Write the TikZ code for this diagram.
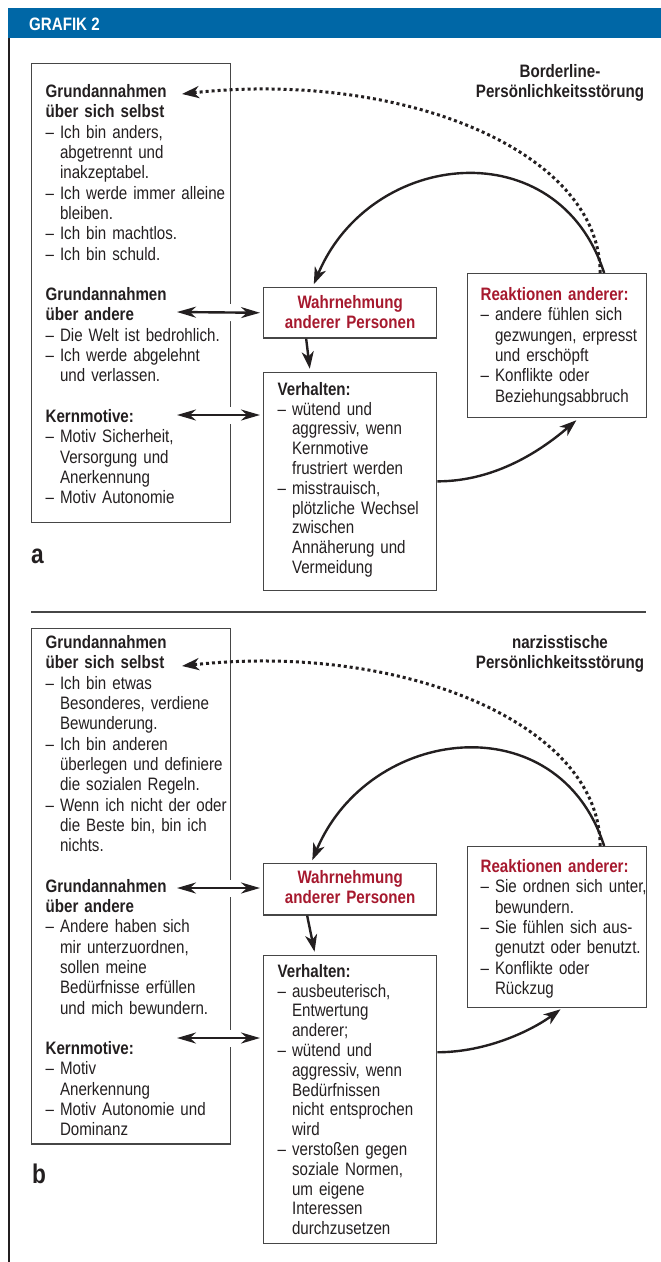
\documentclass[tikz,border=0pt]{standalone}
\usepackage{fontspec}
\setmainfont{Liberation Sans}[FakeStretch=0.84]
\usetikzlibrary{arrows.meta,positioning}

\definecolor{kopfblau}{RGB}{0,103,166}
\definecolor{rot}{RGB}{166,25,46}
\definecolor{schrift}{RGB}{35,31,32}
\definecolor{rahmengrau}{RGB}{70,70,70}

\newcommand{\pkt}[1]{\mbox{–\ #1}}
\newcommand{\wtr}[1]{\mbox{\phantom{–\ }#1}}

\begin{document}
\begin{tikzpicture}[
      x=1pt,y=-1pt,
      every node/.style={inner sep=0pt,text=schrift},
      rahmen/.style={
        draw=rahmengrau,
        line width=1.3pt,
        anchor=north west,
        align=left,
        inner xsep=14pt,
        inner ysep=0pt,
        font=\fontsize{18}{20.3}\selectfont
      },
      wahrbox/.style={rahmen,align=center,inner xsep=0pt,text width=173pt,
        font=\bfseries\fontsize{18}{20.3}\selectfont,text=rot},
      verhbox/.style={rahmen,text width=145pt,font=\fontsize{18}{19.8}\selectfont},
      reakbox/.style={rahmen,inner xsep=13pt,text width=153pt},
      titel/.style={anchor=north,align=center,font=\bfseries\fontsize{18}{20.3}\selectfont},
      marke/.style={anchor=base west,font=\bfseries\fontsize{27}{30}\selectfont},
      pfeil/.style={-{Stealth[length=17pt,width=12pt,inset=5pt]},line width=2.4pt,draw=schrift},
      doppelpfeil/.style={
        {Stealth[length=19pt,width=11pt,inset=6pt]}-{Stealth[length=19pt,width=11pt,inset=6pt]},
        line width=2.4pt,draw=schrift,shorten >=3pt,
        preaction={draw=white,line width=17pt,-}
      },
      punkte/.style={pfeil,line width=3pt,dash pattern=on 3pt off 3pt}
    ]
    \useasboundingbox (0,0) rectangle (661,1262);
    \fill[kopfblau] (8,8) rectangle (661,38);
    \node[anchor=base west,text=white,font=\bfseries\fontsize{18}{20}\selectfont] (kopf) at (29,30) {GRAFIK 2};
    \draw[line width=2.2pt,schrift] (9,38) -- (9,1262);

    % a: Borderline
    \node[rahmen,text width=171pt] (selbstA) at (31,63) {%
      \rule{0pt}{34pt}\textbf{Grundannahmen}\\
      \textbf{über sich selbst}\\
      \pkt{Ich bin anders,}\\
      \wtr{abgetrennt und}\\
      \wtr{inakzeptabel.}\\
      \pkt{Ich werde immer alleine}\\
      \wtr{bleiben.}\\
      \pkt{Ich bin machtlos.}\\
      \pkt{Ich bin schuld.}\\[20.3pt]
      \textbf{Grundannahmen}\\
      \textbf{über andere}\\
      \pkt{Die Welt ist bedrohlich.}\\
      \pkt{Ich werde abgelehnt}\\
      \wtr{und verlassen.}\\[20.3pt]
      \textbf{Kernmotive:}\\
      \pkt{Motiv Sicherheit,}\\
      \wtr{Versorgung und}\\
      \wtr{Anerkennung}\\
      \pkt{Motiv Autonomie}\rule[-19pt]{0pt}{0pt}};
    \node[wahrbox] (wahrA) at (263,287)
      {\rule{0pt}{21pt}Wahrnehmung\\anderer Personen\rule[-9pt]{0pt}{0pt}};
    \node[verhbox,below=33pt of wahrA.south west,anchor=north west] (verhA) {%
      \rule{0pt}{23pt}\textbf{Verhalten:}\\
      \pkt{wütend und}\\
      \wtr{aggressiv, wenn}\\
      \wtr{Kernmotive}\\
      \wtr{frustriert werden}\\
      \pkt{misstrauisch,}\\
      \wtr{plötzliche Wechsel}\\
      \wtr{zwischen}\\
      \wtr{Annäherung und}\\
      \wtr{Vermeidung}\rule[-17pt]{0pt}{0pt}};
    \node[reakbox] (reakA) at (467,273) {%
      \rule{0pt}{27pt}{\color{rot}\textbf{Reaktionen anderer:}}\\
      \pkt{andere fühlen sich}\\
      \wtr{gezwungen, erpresst}\\
      \wtr{und erschöpft}\\
      \pkt{Konflikte oder}\\
      \wtr{Beziehungsabbruch}\rule[-15.5pt]{0pt}{0pt}};
    \node[titel] (titelA) at (560,64) {\rule{0pt}{13pt}Borderline-\\Persönlichkeitsstörung};
    \node[marke] (markeA) at (31,563) {a};

    \coordinate (gsA) at (182,94);
    \coordinate (gaA) at (177,312);
    \coordinate (kmA) at (177,415);
    \draw[punkte] ([xshift=43pt]reakA.north) .. controls +(0,-123) and +(218,-24) .. (gsA);
    \draw[pfeil,shorten >=3pt] ([xshift=47pt]reakA.north) .. controls +(-46,-143) and +(58,-138) .. ([xshift=-37.5pt]wahrA.north);
    \draw[pfeil,shorten >=3pt] ([xshift=-44pt]wahrA.south) -- ([xshift=-40pt]verhA.north);
    \draw[pfeil,shorten >=3pt] (verhA.east) .. controls +(60,0) and +(-35,30) .. ([xshift=21.5pt]reakA.south);
    \draw[doppelpfeil] (gaA) -- (wahrA.west);
    \draw[doppelpfeil] (kmA) -- (kmA -| verhA.west);

    \draw[rahmengrau,line width=1.2pt] (31,612) -- (646,612);

    % b: narzisstisch
    \node[rahmen,text width=171pt] (selbstB) at (31,628) {%
      \rule{0pt}{20pt}\textbf{Grundannahmen}\\
      \textbf{über sich selbst}\\
      \pkt{Ich bin etwas}\\
      \wtr{Besonderes, verdiene}\\
      \wtr{Bewunderung.}\\
      \pkt{Ich bin anderen}\\
      \wtr{überlegen und definiere}\\
      \wtr{die sozialen Regeln.}\\
      \pkt{Wenn ich nicht der oder}\\
      \wtr{die Beste bin, bin ich}\\
      \wtr{nichts.}\\[20.3pt]
      \textbf{Grundannahmen}\\
      \textbf{über andere}\\
      \pkt{Andere haben sich}\\
      \wtr{mir unterzuordnen,}\\
      \wtr{sollen meine}\\
      \wtr{Bedürfnisse erfüllen}\\
      \wtr{und mich bewundern.}\\[20.3pt]
      \textbf{Kernmotive:}\\
      \pkt{Motiv}\\
      \wtr{Anerkennung}\\
      \pkt{Motiv Autonomie und}\\
      \wtr{Dominanz}\rule[-8pt]{0pt}{0pt}};
    \node[wahrbox] (wahrB) at (263,863)
      {\rule{0pt}{20pt}Wahrnehmung\\anderer Personen\rule[-11pt]{0pt}{0pt}};
    \node[verhbox,below=39pt of wahrB.south west,anchor=north west] (verhB) {%
      \rule{0pt}{22pt}\textbf{Verhalten:}\\
      \pkt{ausbeuterisch,}\\
      \wtr{Entwertung}\\
      \wtr{anderer;}\\
      \pkt{wütend und}\\
      \wtr{aggressiv, wenn}\\
      \wtr{Bedürfnissen}\\
      \wtr{nicht entsprochen}\\
      \wtr{wird}\\
      \pkt{verstoßen gegen}\\
      \wtr{soziale Normen,}\\
      \wtr{um eigene}\\
      \wtr{Interessen}\\
      \wtr{durchzusetzen}\rule[-8.6pt]{0pt}{0pt}};
    \node[reakbox] (reakB) at (467,846) {%
      \rule{0pt}{26pt}{\color{rot}\textbf{Reaktionen anderer:}}\\
      \pkt{Sie ordnen sich unter,}\\
      \wtr{bewundern.}\\
      \pkt{Sie fühlen sich aus-}\\
      \wtr{genutzt oder benutzt.}\\
      \pkt{Konflikte oder}\\
      \wtr{Rückzug}\rule[-13pt]{0pt}{0pt}};
    \node[titel] (titelB) at (560,635) {\rule{0pt}{13pt}narzisstische\\Persönlichkeitsstörung};
    \node[marke] (markeB) at (32,1183) {b};

    \coordinate (gsB) at (182,666);
    \coordinate (gaB) at (177,888);
    \coordinate (kmB) at (177,1038);
    \draw[punkte] ([xshift=43pt]reakB.north) .. controls +(0,-123) and +(218,-24) .. (gsB);
    \draw[pfeil,shorten >=3pt] ([xshift=47pt]reakB.north) .. controls +(-46,-143) and +(58,-138) .. ([xshift=-39pt]wahrB.north);
    \draw[pfeil,shorten >=3pt] ([xshift=-43pt]wahrB.south) -- ([xshift=-35pt]verhB.north);
    \draw[pfeil,shorten >=2pt] ([yshift=47pt]verhB.east) .. controls +(50,0) and +(-30,22) .. ([xshift=5pt]reakB.south);
    \draw[doppelpfeil] (gaB) -- (gaB -| wahrB.west);
    \draw[doppelpfeil] (kmB) -- (kmB -| verhB.west);
  \end{tikzpicture}
\end{document}
